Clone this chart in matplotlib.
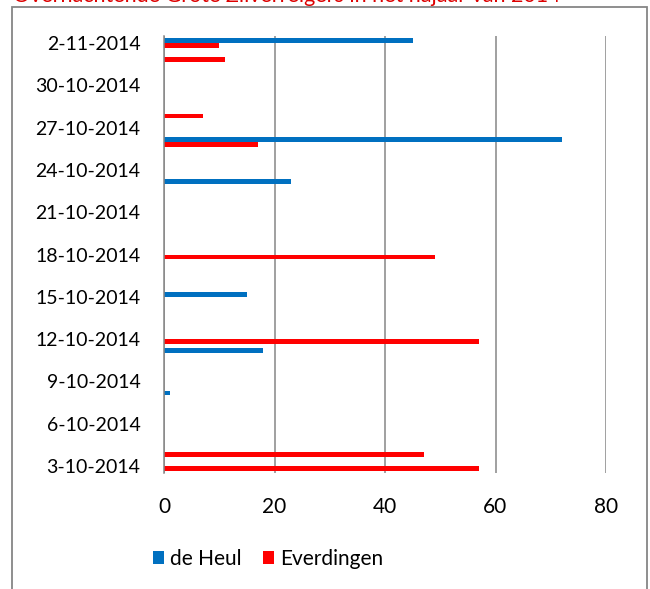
import datetime as dt
import matplotlib
matplotlib.use("Agg")
import matplotlib.pyplot as plt
from matplotlib.patches import Rectangle

# dagen 3-10-2014 t/m 2-11-2014
start = dt.date(2014, 10, 3)
dagen = [start + dt.timedelta(days=i) for i in range(31)]
datum_labels = [f"{d.day}-{d.month}-{d.year}" for d in dagen]

# aantallen per dag (0 = geen telling)
de_heul = [0, 0, 0, 0, 0, 1, 0, 0, 18, 0, 0, 0, 15, 0, 0,
           0, 0, 0, 0, 0, 23, 0, 0, 72, 0, 0, 0, 0, 0, 0, 45]
everdingen = [57, 47, 0, 0, 0, 0, 0, 0, 0, 57, 0, 0, 0, 0, 0,
              49, 0, 0, 0, 0, 0, 0, 0, 17, 0, 7, 0, 0, 0, 11, 10]

x_ticks = [0, 20, 40, 60, 80]
titel = "Overnachtende Grote Zilverreigers in het najaar van 2014"

plt.rcParams['font.family'] = ['Lato', 'DejaVu Sans']

fig = plt.figure(figsize=(6.5, 5.89), dpi=100)
ax = fig.add_axes([164 / 650, 1 - 473 / 589, 442 / 650, 437 / 589])

pos = list(range(len(dagen)))
b1 = ax.barh([p + 0.18 for p in pos], de_heul, height=0.33, color='#0070C0', label='de Heul', zorder=3)
b2 = ax.barh([p - 0.18 for p in pos], everdingen, height=0.33, color='#FF0000', label='Everdingen', zorder=3)

ax.set_xlim(0, 80)
ax.set_ylim(-0.5, 30.5)
ax.set_xticks(x_ticks)
ax.set_yticks(pos[::3])
ax.set_yticklabels(datum_labels[::3])
ax.tick_params(axis='both', length=0)
ax.tick_params(axis='x', pad=17, labelsize=15)
ax.tick_params(axis='y', pad=17, labelsize=14)
ax.grid(axis='x', color='#868686', linewidth=1.1, zorder=0)
for s in ['top', 'right', 'bottom']:
    ax.spines[s].set_visible(False)
ax.spines['left'].set_color('#868686')
ax.spines['left'].set_linewidth(1.1)
ax.spines['left'].set_zorder(4)

fig.legend(handles=[b1, b2], loc='center', bbox_to_anchor=(268 / 650, 1 - 559 / 589),
           ncol=2, frameon=False, fontsize=15, handlelength=0.55, handleheight=0.55,
           handletextpad=0.3, columnspacing=1.0)

# kader van de grafiek
fig.add_artist(Rectangle((12 / 650, -0.1), 635 / 650, 1.1 - 7 / 589, transform=fig.transFigure,
                         fill=False, edgecolor='#868686', linewidth=1.3, clip_on=False))

fig.text(13 / 650, 1 - 2.5 / 589, titel, color='#DD0000', fontsize=15.5, va='baseline', ha='left')

fig.savefig("out.png", dpi=100)
